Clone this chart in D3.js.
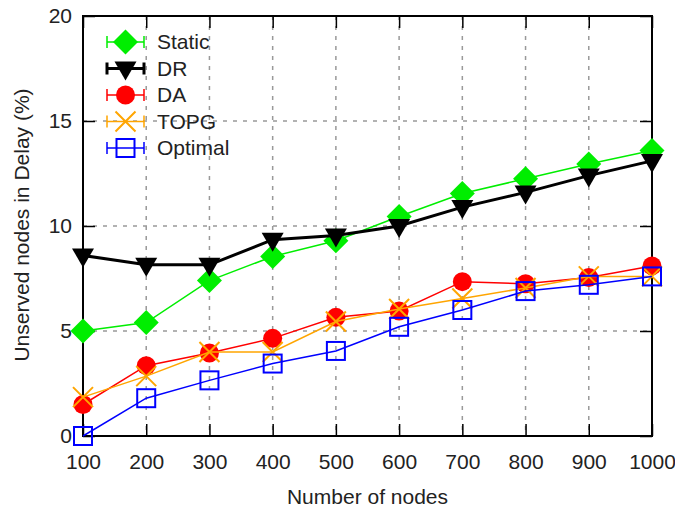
<!DOCTYPE html>
<html>
<head>
<meta charset="utf-8">
<script src="https://cdn.jsdelivr.net/npm/d3@7"></script>
<style>
  body { margin: 0; background: #fff; }
  text { font-family: "Liberation Sans", Arial, sans-serif; fill: #222; }
  .grid line { stroke: #999; stroke-width: 1.5; stroke-dasharray: 4,6; }
</style>
</head>
<body>
<div id="chart"></div>
<script>
// data
var nodes = [100, 200, 300, 400, 500, 600, 700, 800, 900, 1000];
var yTicks = [0, 5, 10, 15, 20];

var staticVals  = [5.0, 5.4, 7.4, 8.55, 9.3, 10.45, 11.55, 12.25, 12.95, 13.6];
var drVals      = [8.6, 8.15, 8.15, 9.35, 9.55, 10.0, 10.9, 11.6, 12.4, 13.1];
var daVals      = [1.5, 3.35, 3.95, 4.65, 5.65, 5.95, 7.35, 7.25, 7.55, 8.1];
var topgVals    = [1.85, 2.85, 4.0, 4.0, 5.45, 6.05, 6.55, 7.05, 7.6, 7.6];
var optimalVals = [0.0, 1.8, 2.65, 3.45, 4.05, 5.2, 6.0, 6.9, 7.2, 7.6];

var seriesNames = ["Static", "DR", "DA", "TOPG", "Optimal"];

var series = [
  {name: seriesNames[0], values: staticVals,  color: "#00ee00", width: 1.5, marker: "diamond"},
  {name: seriesNames[1], values: drVals,      color: "#000000", width: 3,   marker: "triangle"},
  {name: seriesNames[2], values: daVals,      color: "#ff0000", width: 1.5, marker: "circle"},
  {name: seriesNames[3], values: topgVals,    color: "#ffa500", width: 1.5, marker: "cross"},
  {name: seriesNames[4], values: optimalVals, color: "#0000ff", width: 1.5, marker: "square"}
];

var margin = {top: 16, right: 23, bottom: 77, left: 83};
var full_width = 675, full_height = 513;
var width = full_width - margin.left - margin.right;
var height = full_height - margin.top - margin.bottom;
var fontSize = 21;

var svg = d3.select("#chart").append("svg")
  .attr("width", full_width)
  .attr("height", full_height)
  .append("g")
  .attr("transform", "translate(" + margin.left + "," + margin.top + ")");

var x = d3.scaleLinear().domain([100, 1000]).range([0, width]);
var y = d3.scaleLinear().domain([0, 20]).range([height, 0]);

// dotted grid
var grid = svg.append("g").attr("class", "grid");
grid.selectAll(".vg").data(nodes.slice(1, -1)).enter().append("line")
  .attr("x1", d => x(d)).attr("x2", d => x(d))
  .attr("y1", 0).attr("y2", height);
grid.selectAll(".hg").data(yTicks.slice(1, -1)).enter().append("line")
  .attr("x1", 0).attr("x2", width)
  .attr("y1", d => y(d)).attr("y2", d => y(d));

// axes with inward ticks
function styleAxis(g) {
  g.select(".domain").remove();
  g.selectAll(".tick line").attr("stroke", "#000").attr("stroke-width", 1.5);
  g.selectAll(".tick text").attr("font-size", fontSize).attr("fill", "#222")
    .attr("font-family", "Liberation Sans, Arial, sans-serif");
}

svg.append("g")
  .attr("transform", "translate(0," + height + ")")
  .call(d3.axisBottom(x).tickValues(nodes).tickSizeInner(-12).tickPadding(18).tickFormat(d3.format("d")))
  .call(styleAxis);

svg.append("g")
  .call(d3.axisTop(x).tickValues(nodes).tickSizeInner(-12).tickFormat(""))
  .call(styleAxis);

svg.append("g")
  .call(d3.axisLeft(y).tickValues(yTicks).tickSizeInner(-12).tickPadding(11))
  .call(styleAxis);

svg.append("g")
  .attr("transform", "translate(" + width + ",0)")
  .call(d3.axisRight(y).tickValues(yTicks).tickSizeInner(-12).tickFormat(""))
  .call(styleAxis);

// frame
svg.append("rect")
  .attr("width", width).attr("height", height)
  .attr("fill", "none").attr("stroke", "#000").attr("stroke-width", 2);

// markers
function drawMarker(g, type, color) {
  if (type === "diamond") {
    g.append("path").attr("d", "M0,-12.5L12.5,0L0,12.5L-12.5,0Z").attr("fill", color);
  } else if (type === "triangle") {
    g.append("path").attr("d", "M-11,-7L11,-7L0,12Z").attr("fill", color);
  } else if (type === "circle") {
    g.append("circle").attr("r", 9.5).attr("fill", color);
  } else if (type === "cross") {
    g.append("path").attr("d", "M-10,-10L10,10M-10,10L10,-10")
      .attr("stroke", color).attr("stroke-width", 2).attr("fill", "none");
  } else if (type === "square") {
    g.append("rect").attr("x", -9).attr("y", -9).attr("width", 18).attr("height", 18)
      .attr("fill", "none").attr("stroke", color).attr("stroke-width", 2);
  }
}

var line = d3.line().x((d, i) => x(nodes[i])).y(d => y(d));

series.forEach(function(s) {
  var g = svg.append("g").attr("class", "series");
  g.append("path")
    .attr("d", line(s.values))
    .attr("fill", "none")
    .attr("stroke", s.color)
    .attr("stroke-width", s.width);
  s.values.forEach(function(v, i) {
    var m = g.append("g").attr("transform", "translate(" + x(nodes[i]) + "," + y(v) + ")");
    drawMarker(m, s.marker, s.color);
  });
});

// legend
var legend = svg.append("g").attr("transform", "translate(24,26)");
series.forEach(function(s, i) {
  var row = legend.append("g").attr("transform", "translate(0," + (i * 26.5) + ")");
  row.append("path")
    .attr("d", "M0,0L37,0M0,-6L0,6M37,-6L37,6")
    .attr("stroke", s.color).attr("stroke-width", s.width === 3 ? 3 : 1.5).attr("fill", "none");
  var m = row.append("g").attr("transform", "translate(18.5,0)");
  drawMarker(m, s.marker, s.color);
  row.append("text").attr("x", 50).attr("y", 0).attr("dy", "0.35em")
    .attr("font-size", fontSize).text(s.name);
});

// axis titles
svg.append("text")
  .attr("x", width / 2).attr("y", height + 68)
  .attr("text-anchor", "middle").attr("font-size", fontSize)
  .text("Number of nodes");

svg.append("text")
  .attr("transform", "rotate(-90)")
  .attr("x", -height / 2 + 1).attr("y", -54)
  .attr("text-anchor", "middle").attr("font-size", fontSize)
  .text("Unserved nodes in Delay (%)");
</script>
</body>
</html>
